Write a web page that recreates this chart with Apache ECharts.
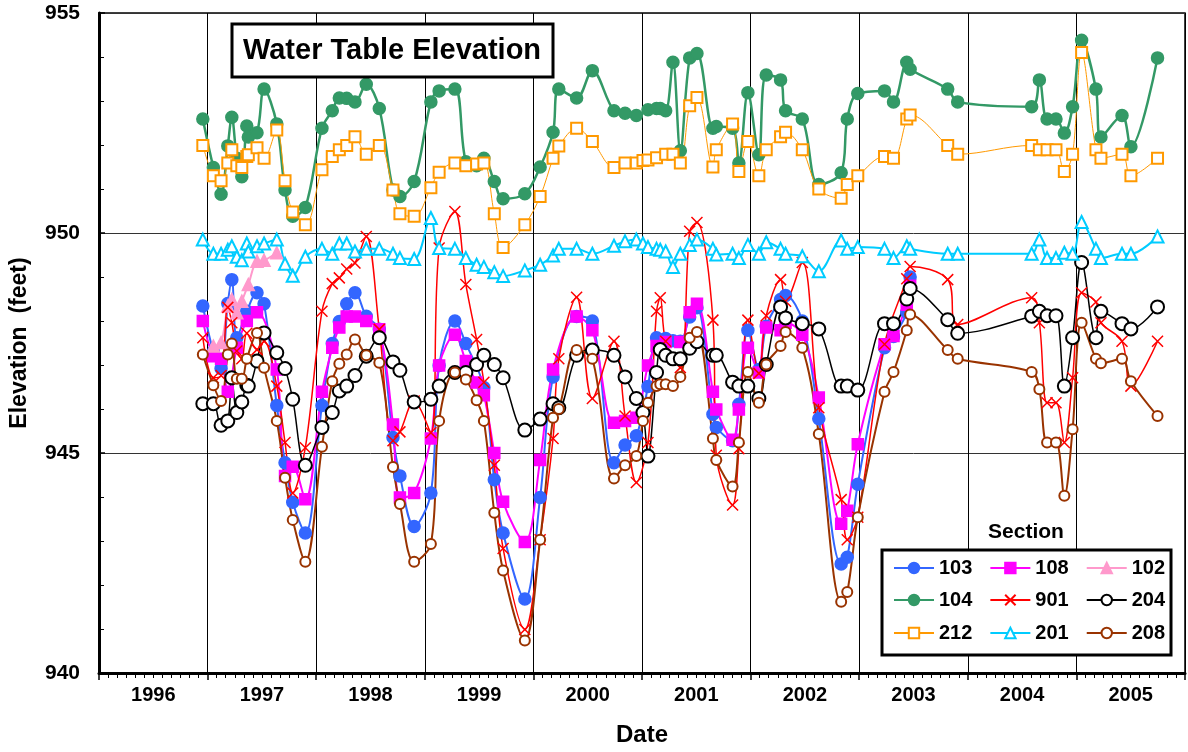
<!DOCTYPE html>
<html lang="en">
<head>
<meta charset="UTF-8">
<title>Water Table Elevation</title>
<script src="https://cdn.jsdelivr.net/npm/echarts@6/dist/echarts.min.js"></script>
<style>
    html, body { margin: 0; padding: 0; background: #fff; }
    #main { width: 1188px; height: 752px; }
</style>
</head>
<body>
<div id="main"></div>
<script>
// sample dates as decimal years
var dates = [1996.956, 1997.053, 1997.124, 1997.186, 1997.223, 1997.269, 1997.315, 1997.361, 1997.375, 1997.455,
    1997.520, 1997.637, 1997.713, 1997.784, 1997.900, 1998.053, 1998.148, 1998.213, 1998.281, 1998.357,
    1998.461, 1998.581, 1998.707, 1998.771, 1998.902, 1999.056, 1999.132, 1999.277, 1999.378, 1999.477,
    1999.544, 1999.640, 1999.721, 1999.921, 2000.062, 2000.181, 2000.234, 2000.398, 2000.543, 2000.742,
    2000.844, 2000.948, 2001.009, 2001.055, 2001.134, 2001.168, 2001.218, 2001.285, 2001.353, 2001.439,
    2001.506, 2001.653, 2001.684, 2001.834, 2001.892, 2001.975, 2002.076, 2002.144, 2002.276, 2002.322,
    2002.476, 2002.628, 2002.834, 2002.890, 2002.987, 2003.233, 2003.316, 2003.438, 2003.469, 2003.815,
    2003.907, 2004.588, 2004.659, 2004.730, 2004.812, 2004.889, 2004.965, 2005.048, 2005.180, 2005.226,
    2005.420, 2005.502, 2005.747];

var s103 = [948.34, 947.30, 946.92, 948.40, 948.94, 947.62, null, 948.22, null, 948.64,
    948.39, 946.08, 944.78, 943.88, 943.18, 946.08, 947.49, 947.99, 948.39, 948.64,
    948.11, 947.81, 945.35, 944.48, 943.33, 944.09, 946.99, 948.00, 947.49, null,
    946.49, 944.39, 943.18, 941.68, 943.99, 946.73, null, 948.10, 948.00, 944.78,
    945.18, 945.39, null, 946.51, 947.62, null, 947.60, 947.55, 947.54, 948.09,
    948.30, 945.88, 945.58, 945.28, 946.11, 947.79, 946.90, 947.88, 948.49, 948.58,
    948.00, 945.78, 942.48, 942.63, 944.29, 947.39, 947.65, 948.20, 949.00];

var s108 = [948.00, 947.20, 947.14, 946.39, null, 947.39, null, 948.00, null, 948.20,
    null, 946.90, 944.48, 944.69, 943.95, 946.39, 947.39, 947.85, 948.10, 948.10,
    948.00, 947.81, 945.65, 943.99, 944.09, 945.33, 946.99, 947.69, 947.09, 946.60,
    946.31, 945.00, 943.89, 942.98, 944.84, 946.90, null, 948.10, 947.79, 945.69,
    945.73, 945.80, null, 946.99, 947.43, null, 947.52, null, 947.52, 948.20,
    948.39, 946.39, 945.99, 945.30, 945.99, 947.39, 946.83, 947.85, 947.79, 947.96,
    947.69, 946.26, 943.39, 943.69, 945.20, 947.47, 947.66, 948.37, 948.80];

var s102 = [null, 947.43, 947.51, 948.34, 948.49, 948.19, 948.45, null, 948.83, 949.36,
    949.38, 949.55];

var s104 = [952.59, 951.49, 950.88, 951.98, 952.63, 951.70, 951.28, 952.43, 952.18, 952.28,
    953.27, 952.48, 950.98, 950.38, 950.58, 952.38, 952.78, 953.07, 953.06, 952.98,
    953.38, 952.83, 950.98, 950.83, 951.17, 952.98, 953.23, 953.27, 951.62, 951.53,
    951.70, 951.17, 950.78, 950.89, 951.50, 952.29, 953.27, 953.07, 953.69, 952.78,
    952.72, 952.67, null, 952.80, 952.83, 952.83, 952.78, 953.88, 951.87, 953.98,
    954.08, 952.38, 952.42, 952.38, 951.59, 953.19, 951.78, 953.59, 953.48, 952.78,
    952.59, 951.10, 951.37, 952.59, 953.17, 953.23, 952.98, 953.88, 953.72, 953.27,
    952.98, 952.87, 953.48, 952.59, 952.59, 952.27, 952.87, 954.38, 953.27, 952.18,
    952.67, 951.96, 953.98];

var s901 = [947.62, 946.71, 946.76, 948.31, 947.96, 947.32, 947.14, 947.72, null, 947.35,
    947.54, 946.52, 945.24, 944.09, 945.12, 948.22, 948.85, 948.98, 949.18, 949.32,
    949.92, 947.81, 945.28, 945.48, 946.18, 945.46, 949.66, 950.49, 948.83, 947.58,
    946.61, 944.72, 942.83, 940.99, 943.03, 945.33, 947.14, 948.54, 946.24, 947.54,
    945.84, 944.33, null, 945.24, 948.22, 948.53, 947.54, null, 946.94, 950.04,
    950.24, 948.02, 944.95, 943.82, 945.10, 948.02, 946.81, 948.12, 948.94, 948.45,
    949.33, 946.03, 943.94, 943.03, 943.54, 947.47, null, 948.96, 949.24, 948.94,
    947.92, 948.53, 947.96, 946.14, 946.14, 945.24, 946.71, 948.64, 948.43, 947.96,
    947.54, 946.52, 947.54];

var s204 = [946.12, 946.12, 945.63, 945.73, 946.71, 945.92, 946.16, 946.54, 946.52, 947.09,
    947.73, 947.28, 946.92, 946.22, 944.72, 945.58, 945.92, 946.41, 946.52, 946.76,
    947.20, 947.62, 947.07, 946.88, 946.16, 946.22, 946.52, 946.83, 946.83, 947.01,
    947.22, 947.01, 946.71, 945.52, 945.77, 946.12, 946.03, 947.22, 947.34, 947.22,
    946.73, 946.24, 945.92, 944.93, 946.83, 947.35, 947.22, 947.14, 947.14, 947.38,
    947.53, 947.22, 947.22, 946.61, 946.52, 946.52, 946.24, 947.01, 948.32, 948.07,
    947.94, 947.82, 946.52, 946.52, 946.43, 947.94, 947.94, 948.50, 948.74, 948.03,
    947.72, 948.11, 948.22, 948.12, 948.12, 946.52, 947.62, 949.33, 947.62, 948.22,
    947.94, 947.82, 948.32];

var s212 = [951.99, 951.30, 951.19, 951.59, 951.89, 951.53, 951.49, 951.74, 951.78, 951.94,
    951.70, 952.34, 951.19, 950.48, 950.19, 951.44, 951.74, 951.89, 951.99, 952.19,
    951.79, 951.99, 950.98, 950.44, 950.38, 951.03, 951.38, 951.59, 951.53, 951.57,
    951.59, 950.44, 949.67, 950.19, 950.83, 951.70, 951.98, 952.38, 952.08, 951.49,
    951.59, 951.59, 951.65, 951.66, 951.71, null, 951.79, 951.79, 951.59, 952.89,
    953.08, 951.50, 951.89, 952.48, 951.40, 952.08, 951.30, 951.89, 952.19, 952.29,
    951.89, 951.00, 950.79, 951.10, 951.30, 951.74, 951.70, 952.59, 952.68, 951.99,
    951.79, 951.99, 951.89, 951.89, 951.89, 951.40, 951.79, 954.10, 951.89, 951.70,
    951.79, 951.30, 951.70];

var s201 = [949.85, 949.53, 949.53, 949.62, 949.70, 949.46, 949.38, 949.76, 949.58, 949.70,
    949.76, 949.85, 949.30, 949.03, 949.46, 949.64, 949.53, 949.76, 949.76, 949.58,
    949.64, 949.64, 949.53, 949.43, 949.41, 950.34, 949.66, 949.64, 949.43, 949.28,
    949.23, 949.11, 949.02, 949.15, 949.28, 949.49, 949.64, 949.64, 949.53, 949.71,
    949.81, 949.85, 949.76, 949.68, 949.64, 949.62, 949.58, 949.23, 949.53, 949.73,
    949.85, 949.64, 949.51, 949.53, 949.43, 949.73, 949.53, 949.79, 949.64, 949.53,
    949.47, 949.13, 949.83, 949.64, 949.68, 949.64, 949.43, 949.70, 949.64, 949.53,
    949.53, 949.53, 949.85, 949.43, 949.43, 949.55, 949.53, 950.25, 949.64, 949.43,
    949.53, 949.53, 949.92];

var s208 = [947.24, 946.54, 946.18, 947.24, 947.49, 946.69, 946.69, 947.14, null, 947.73,
    946.94, 945.73, 944.44, 943.48, 942.53, 945.14, 946.63, 947.03, 947.24, 947.58,
    947.22, 947.05, 944.68, 943.84, 942.53, 942.93, 945.73, 946.83, 946.67, 946.20,
    945.73, 943.64, 942.33, 940.74, 943.03, 945.80, 946.00, 947.34, 947.14, 944.42,
    944.72, 944.93, 945.73, 946.14, 946.52, 946.56, 946.56, 946.52, 946.73, 947.62,
    947.75, 945.33, 944.84, 944.24, 945.24, 946.84, 946.14, 947.01, 947.43, 947.75,
    947.39, 945.43, 941.62, 941.84, 943.54, 946.39, 946.84, 947.79, 948.15, 947.34,
    947.14, 946.84, 946.45, 945.24, 945.24, 944.03, 945.54, 947.96, 947.14, 947.04,
    947.14, 946.63, 945.84];

var font = "'Liberation Sans', Arial, sans-serif";
var crossPath = 'path://M0,0L10,10M0,10L10,0';

function pairs(vals) {
    var out = [];
    for (var i = 0; i < vals.length; i++) {
        if (vals[i] != null) out.push([dates[i], vals[i]]);
    }
    return out;
}

function line(name, vals, color, symbol, size, width) {
    return {
        name: name,
        type: 'line',
        data: pairs(vals),
        smooth: 0.35,
        symbol: symbol,
        symbolSize: size,
        showAllSymbol: true,
        lineStyle: {color: color, width: width},
        itemStyle: {color: color, borderColor: color, borderWidth: 1.5},
        emphasis: {disabled: true}
    };
}

var myChart = echarts.init(document.getElementById('main'));

var legendBase = {
    left: 893,
    z: 20,
    padding: 0,
    itemWidth: 40,
    itemHeight: 13,
    itemGap: 17,
    selectedMode: false,
    textStyle: {fontFamily: font, fontWeight: 'bold', fontSize: 20, color: '#000'}
};

var option = {
    backgroundColor: '#fff',
    animation: false,
    grid: {
        left: 99, right: 2, top: 13, bottom: 77,
        show: true, borderColor: '#000', borderWidth: 1.5
    },
    xAxis: [{
        type: 'value',
        min: 1996, max: 2006, interval: 1,
        axisLine: {show: true, onZero: false, lineStyle: {color: '#000', width: 3}},
        axisTick: {show: true, length: 7, lineStyle: {color: '#000', width: 1.5}},
        minorTick: {show: true, splitNumber: 12, length: 5, lineStyle: {color: '#000', width: 1}},
        axisLabel: {show: false},
        splitLine: {show: true, lineStyle: {color: '#000', width: 1}},
        name: 'Date',
        nameLocation: 'middle',
        nameGap: 50,
        nameTextStyle: {fontFamily: font, fontWeight: 'bold', fontSize: 24, color: '#000'}
    }, {
        type: 'value',
        min: 1996, max: 2006, interval: 0.5,
        position: 'bottom',
        axisLine: {show: false},
        axisTick: {show: false},
        splitLine: {show: false},
        axisLabel: {
            margin: 12,
            fontFamily: font, fontWeight: 'bold', fontSize: 20, color: '#000',
            formatter: function (v) {
                return (Math.abs(v % 1 - 0.5) < 0.01) ? String(Math.floor(v)) : '';
            }
        }
    }],
    yAxis: {
        type: 'value',
        min: 940, max: 955, interval: 5,
        axisLine: {show: true, lineStyle: {color: '#000', width: 3}},
        axisTick: {show: true, inside: true, length: 6, lineStyle: {color: '#000', width: 1.5}},
        minorTick: {show: true, splitNumber: 5, length: 5, lineStyle: {color: '#000'}},
        axisLabel: {margin: 19, fontFamily: font, fontWeight: 'bold', fontSize: 21, color: '#000'},
        splitLine: {show: true, lineStyle: {color: '#333', width: 1}},
        name: 'Elevation  (feet)',
        nameLocation: 'middle',
        nameGap: 68,
        nameTextStyle: {fontFamily: font, fontWeight: 'bold', fontSize: 23, color: '#000'}
    },
    graphic: [
        {
            type: 'rect', z: 50,
            shape: {x: 232, y: 24, width: 321, height: 53},
            style: {fill: '#fff', stroke: '#000', lineWidth: 3}
        },
        {
            type: 'text', z: 51,
            x: 392, y: 51,
            style: {
                text: 'Water Table Elevation', fill: '#000',
                font: 'bold 29px ' + font, textAlign: 'center', textVerticalAlign: 'middle'
            }
        },
        {
            type: 'text', z: 51,
            x: 1026, y: 532,
            style: {
                text: 'Section', fill: '#000',
                font: 'bold 21px ' + font, textAlign: 'center', textVerticalAlign: 'middle'
            }
        },
        {
            type: 'rect', z: 5,
            shape: {x: 882, y: 550, width: 289, height: 105},
            style: {fill: '#fff', stroke: '#000', lineWidth: 3}
        }
    ],
    legend: [
        Object.assign({top: 558, data: ['103', '108', '102']}, legendBase),
        Object.assign({top: 590, data: ['104', '901', '204']}, legendBase),
        Object.assign({top: 623, data: ['212', '201', '208']}, legendBase)
    ],
    series: [
        line('103', s103, '#3366FF', 'circle', 12, 2),
        line('108', s108, '#FF00FF', 'rect', 11, 2),
        line('102', s102, '#FF99CC', 'triangle', 12, 2),
        line('104', s104, '#339966', 'circle', 12, 2.5),
        line('901', s901, '#FF0000', crossPath, 11, 1.5),
        line('204', s204, '#000000', 'emptyCircle', 13, 1.5),
        line('212', s212, '#FF9900', 'emptyRect', 11, 1),
        line('201', s201, '#00CCFF', 'emptyTriangle', 12, 2),
        line('208', s208, '#993300', 'emptyCircle', 10, 2)
    ]
};

myChart.setOption(option);
</script>
</body>
</html>
